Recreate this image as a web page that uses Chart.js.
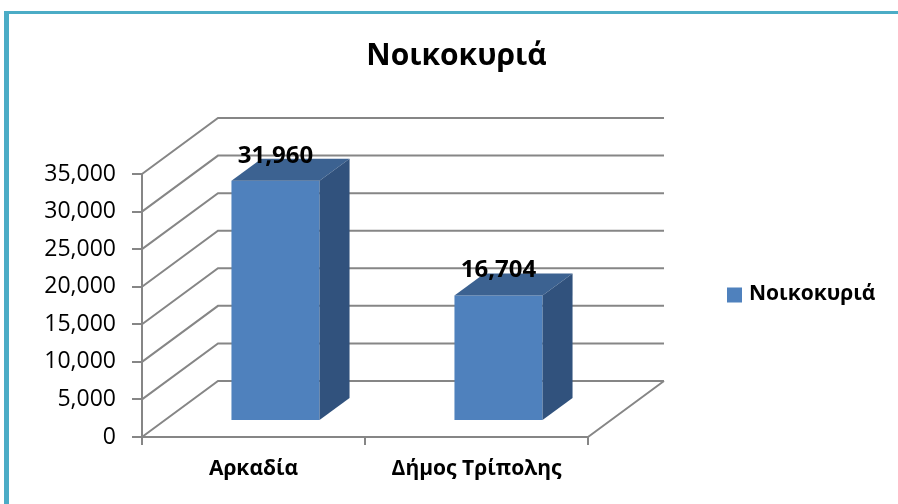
<!DOCTYPE html>
<html>
<head>
<meta charset="utf-8">
<script src="https://cdn.jsdelivr.net/npm/chart.js@4.4.1/dist/chart.umd.min.js"></script>
<style>
  html, body { margin: 0; padding: 0; background: #fff; }
  #wrap { width: 898px; height: 504px; position: relative; }
</style>
</head>
<body>
<div id="wrap"><canvas id="households" width="898" height="504"></canvas></div>
<script>
// data
const categories = ["Αρκαδία", "Δήμος Τρίπολης"];
const households = [31960, 16704];
const seriesName = "Νοικοκυριά";
const yTicks     = [0, 5000, 10000, 15000, 20000, 25000, 30000, 35000];

const FONT      = "'Open Sans', 'Noto Sans', sans-serif";
const GRID      = "#868686";
const FRONT     = "#4f81bd";
const TOP       = "#3c6291";
const SIDE      = "#31527d";
const FRAME     = "#4bacc6";
const WALL      = { dx: 76, dy: -56 };   // back wall offset from the front plane
const BAR_SHIFT = { dx: 22, dy: -16 };   // bar front face sits a bit into the depth
const BAR_DEPTH = { dx: 30, dy: -22 };

function fmt(n) { return n.toLocaleString("en-US"); }

// walls, floor and 3d faces of the bars
const fake3d = {
  id: "fake3d",
  beforeDatasetsDraw(chart) {
    const { ctx, chartArea: a, scales: { y } } = chart;
    ctx.save();
    ctx.strokeStyle = GRID;
    ctx.lineWidth   = 2;
    ctx.beginPath();
    yTicks.forEach(v => {
      const py = y.getPixelForValue(v);
      ctx.moveTo(a.left, py);
      ctx.lineTo(a.left + WALL.dx, py + WALL.dy);
      ctx.lineTo(a.right + WALL.dx, py + WALL.dy);
    });
    ctx.moveTo(a.right, a.bottom);
    ctx.lineTo(a.right + WALL.dx, a.bottom + WALL.dy);
    ctx.stroke();
    ctx.restore();

    // the library draws the front faces, shifted into the depth
    ctx.save();
    ctx.translate(BAR_SHIFT.dx, BAR_SHIFT.dy);
  },
  afterDatasetsDraw(chart) {
    const ctx = chart.ctx;
    ctx.restore();

    const meta = chart.getDatasetMeta(0);
    meta.data.forEach((bar, i) => {
      const { x, y, base, width } = bar.getProps(["x", "y", "base", "width"], true);
      const l = x - width / 2 + BAR_SHIFT.dx;
      const r = x + width / 2 + BAR_SHIFT.dx;
      const t = y + BAR_SHIFT.dy;
      const b = base + BAR_SHIFT.dy;

      ctx.fillStyle = TOP;
      ctx.beginPath();
      ctx.moveTo(l, t);
      ctx.lineTo(l + BAR_DEPTH.dx, t + BAR_DEPTH.dy);
      ctx.lineTo(r + BAR_DEPTH.dx, t + BAR_DEPTH.dy);
      ctx.lineTo(r, t);
      ctx.closePath();
      ctx.fill();

      ctx.fillStyle = SIDE;
      ctx.beginPath();
      ctx.moveTo(r, t);
      ctx.lineTo(r + BAR_DEPTH.dx, t + BAR_DEPTH.dy);
      ctx.lineTo(r + BAR_DEPTH.dx, b + BAR_DEPTH.dy);
      ctx.lineTo(r, b);
      ctx.closePath();
      ctx.fill();

      ctx.fillStyle    = "#000";
      ctx.font         = "bold 24px " + FONT;
      ctx.textAlign    = "center";
      ctx.textBaseline = "alphabetic";
      ctx.fillText(fmt(households[i]), x + BAR_SHIFT.dx, t - 18);
    });
  },
  afterDraw(chart) {
    const ctx = chart.ctx;
    const a   = chart.chartArea;
    ctx.save();
    // legend
    const cy = (a.top + a.bottom) / 2 - 11;
    ctx.fillStyle = FRONT;
    ctx.fillRect(727, cy - 7, 15, 15);
    ctx.fillStyle    = "#000";
    ctx.font         = "bold 21px " + FONT;
    ctx.textAlign    = "left";
    ctx.textBaseline = "middle";
    ctx.fillText(chart.data.datasets[0].label, 749, cy);
    // frame
    ctx.fillStyle = FRAME;
    ctx.fillRect(4, 11, 5, chart.height - 11);
    ctx.fillRect(4, 11, chart.width - 4, 3);
    ctx.restore();
  }
};

new Chart(document.getElementById("households"), {
  type: "bar",
  data: {
    labels: categories,
    datasets: [{
      label:           seriesName,
      data:            households,
      backgroundColor: FRONT,
      borderWidth:     0,
      barPercentage:   0.395,
      categoryPercentage: 1,
    }]
  },
  options: {
    responsive: false,
    animation:  false,
    layout: { padding: { left: 15, right: 0, top: 0, bottom: 0 } },
    plugins: {
      legend:  { display: false },
      tooltip: { enabled: false },
      title: {
        display: true,
        text:    seriesName,
        color:   "#000",
        font:    { family: FONT, size: 30, weight: "bold" },
        padding: { top: 38, bottom: 100 },
      },
    },
    scales: {
      x: {
        grid:   { drawOnChartArea: false, color: GRID, lineWidth: 2, tickLength: 8 },
        border: { color: GRID, width: 2 },
        ticks:  { color: "#000", font: { family: FONT, size: 21, weight: "bold" }, padding: 11 },
        afterFit(s) { s.height = 67; },
      },
      y: {
        min: 0,
        max: 35000,
        grid:   { drawOnChartArea: false, color: GRID, lineWidth: 2, tickLength: 10 },
        border: { color: GRID, width: 2 },
        ticks:  {
          stepSize: 5000,
          color:    "#000",
          font:     { family: FONT, size: 23 },
          padding:  16,
          callback: v => fmt(v),
        },
        afterFit(s) { s.width = 127; },
      },
      y2: {
        position: "right",
        grid:   { display: false },
        border: { display: false },
        ticks:  { display: false },
        afterFit(s) { s.width = 310; },
      },
    }
  },
  plugins: [fake3d]
});
</script>
</body>
</html>
